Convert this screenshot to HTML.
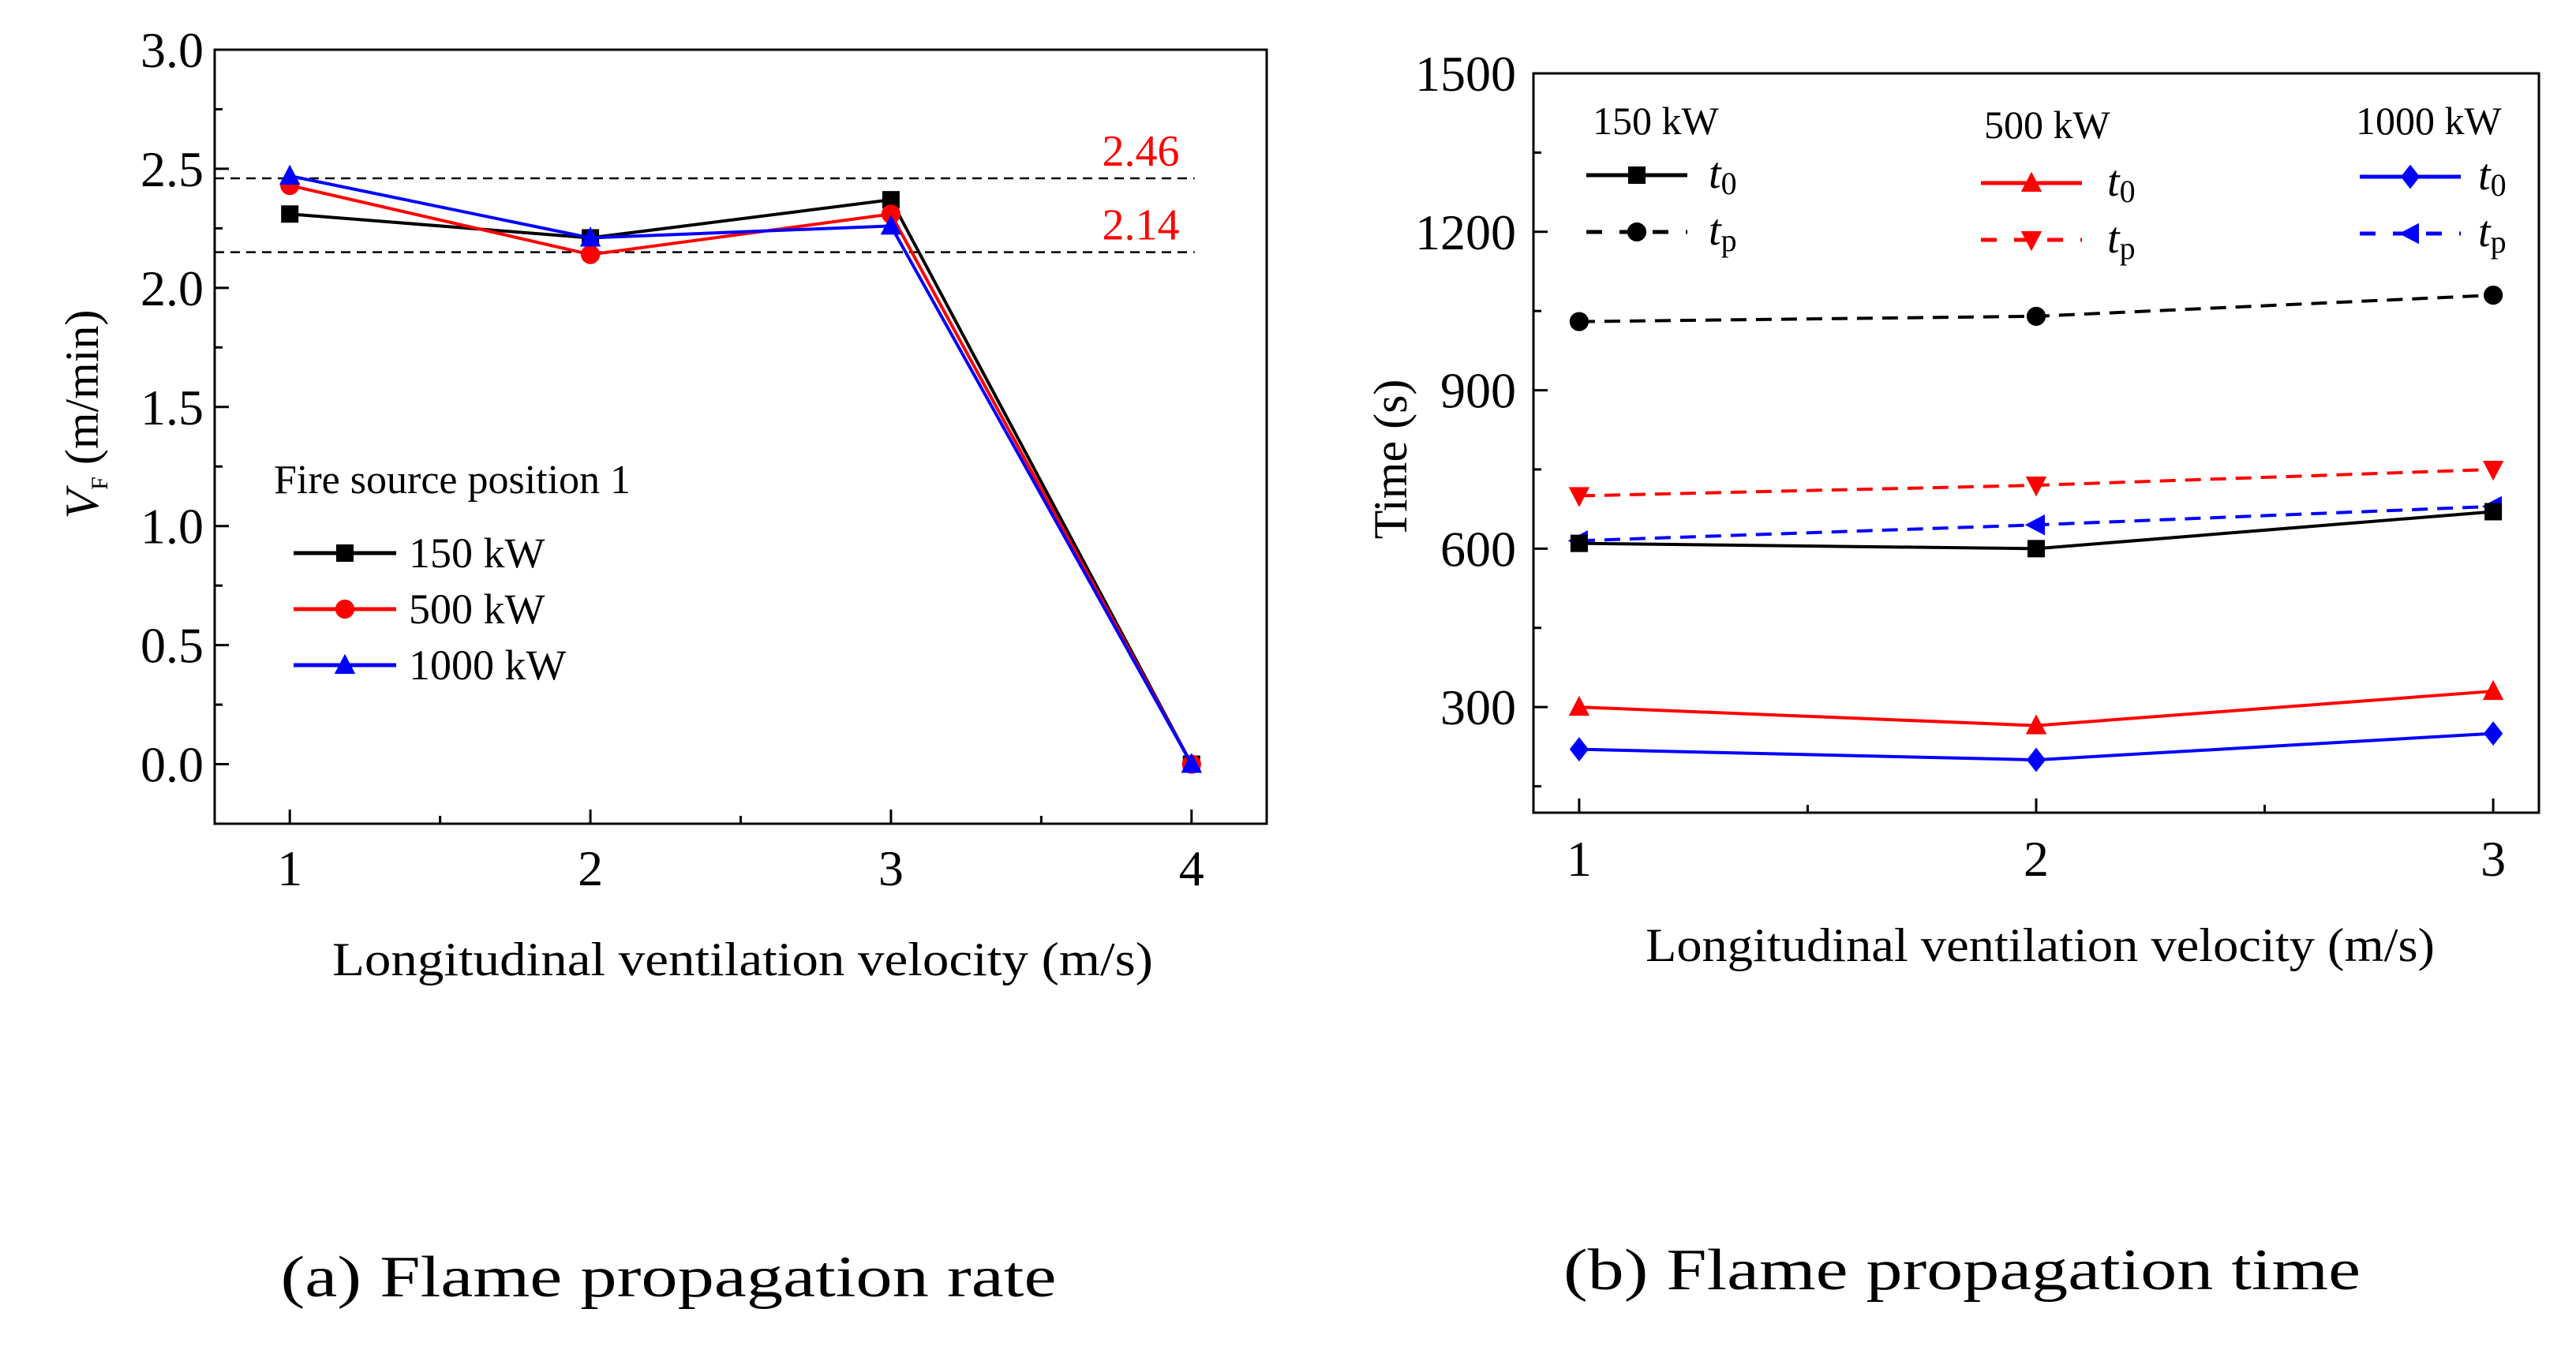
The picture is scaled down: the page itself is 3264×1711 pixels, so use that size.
<!DOCTYPE html>
<html><head><meta charset="utf-8"><style>
html,body{margin:0;padding:0;background:#fff;width:3264px;height:1711px;overflow:hidden}
svg{display:block;font-family:"Liberation Serif",serif}
</style></head><body>
<svg id="fig" width="3264" height="1711" viewBox="0 0 3264 1711" xmlns="http://www.w3.org/2000/svg">
<g id="pa"></g>
<g id="pb"></g>
<text x="847" y="1643" font-size="74" text-anchor="middle" textLength="983" lengthAdjust="spacingAndGlyphs">(a) Flame propagation rate</text>
<text x="2486" y="1634" font-size="74" text-anchor="middle" textLength="1010" lengthAdjust="spacingAndGlyphs">(b) Flame propagation time</text>
</svg>
<script>
// ---- Chart A data ----
const aCategories = [1, 2, 3, 4];
const aSeries150 = [2.31, 2.21, 2.37, 0.0];
const aSeries500 = [2.43, 2.14, 2.31, 0.0];
const aSeries1000 = [2.47, 2.21, 2.26, 0.0];
const aRefLines = [2.46, 2.15];
const aRefLabels = ["2.46", "2.14"];
const aYTicks = [0.0, 0.5, 1.0, 1.5, 2.0, 2.5, 3.0];
const aYTickLabels = ["0.0", "0.5", "1.0", "1.5", "2.0", "2.5", "3.0"];
// ---- Chart B data ----
const bCategories = [1, 2, 3];
const b150t0 = [610, 600, 670];
const b150tp = [1030, 1040, 1080];
const b500t0 = [300, 265, 330];
const b500tp = [700, 720, 750];
const b1000t0 = [220, 200, 250];
const b1000tp = [615, 645, 680];
const bYTicks = [300, 600, 900, 1200, 1500];
const bYTickLabels = ["300", "600", "900", "1200", "1500"];

const NS = "http://www.w3.org/2000/svg";
function mk(parent, tag, attrs, txt) {
  const e = document.createElementNS(NS, tag);
  for (const k in attrs) e.setAttribute(k, attrs[k]);
  if (txt !== undefined) e.textContent = txt;
  parent.appendChild(e);
  return e;
}
function marker(g, shape, x, y, color, s) {
  let e;
  if (shape === 'square') e = mk(g, 'rect', {x: x - s, y: y - s, width: 2 * s, height: 2 * s, fill: color});
  else if (shape === 'circle') e = mk(g, 'circle', {cx: x, cy: y, r: s * 1.1, fill: color});
  else if (shape === 'up') e = mk(g, 'polygon', {points: `${x},${y - s * 1.3} ${x - s * 1.2},${y + s} ${x + s * 1.2},${y + s}`, fill: color});
  else if (shape === 'down') e = mk(g, 'polygon', {points: `${x},${y + s * 1.3} ${x - s * 1.2},${y - s} ${x + s * 1.2},${y - s}`, fill: color});
  else if (shape === 'diamond') e = mk(g, 'polygon', {points: `${x},${y - s * 1.4} ${x + s * 1.1},${y} ${x},${y + s * 1.4} ${x - s * 1.1},${y}`, fill: color});
  else if (shape === 'left') e = mk(g, 'polygon', {points: `${x - s * 1.3},${y} ${x + s},${y - s * 1.2} ${x + s},${y + s * 1.2}`, fill: color});
  
  
  return e;
}

// ===== Chart A =====
(function () {
  const g = document.getElementById('pa');
  const L = 272, R = 1605, T = 63, B = 1044;
  const x0 = 0.75, x1 = 4.25, y0 = -0.25, y1 = 3.0;
  const X = v => L + (v - x0) / (x1 - x0) * (R - L);
  const Y = v => B - (v - y0) / (y1 - y0) * (B - T);
  const frame = mk(g, 'rect', {x: L, y: T, width: R - L, height: B - T, fill: 'none', stroke: '#000', 'stroke-width': 3});
  
  
  for (let v = -0.25; v <= 3.001; v += 0.25) {
    const major = Math.abs(v * 2 - Math.round(v * 2)) < 1e-6;
    const t = mk(g, 'line', {x1: L, x2: L + (major ? 18 : 10), y1: Y(v), y2: Y(v), stroke: '#000', 'stroke-width': 3});
    
    
  }
  aYTicks.forEach((v, i) => {
    const t = mk(g, 'text', {x: L - 14, y: Y(v) + 22, 'font-size': 64, 'text-anchor': 'end'}, aYTickLabels[i]);
    
    
  });
  for (let v = 1; v <= 4.001; v += 0.5) {
    const major = Math.abs(v - Math.round(v)) < 1e-6;
    const t = mk(g, 'line', {x1: X(v), x2: X(v), y1: B, y2: B - (major ? 18 : 10), stroke: '#000', 'stroke-width': 3});
    
    
  }
  aCategories.forEach(v => {
    const t = mk(g, 'text', {x: X(v), y: B + 78, 'font-size': 64, 'text-anchor': 'middle'}, String(v));
    
    
  });
  aRefLines.forEach((v, i) => {
    const l = mk(g, 'line', {x1: L, x2: X(4.01), y1: Y(v), y2: Y(v), stroke: '#000', 'stroke-width': 2.5, 'stroke-dasharray': '12 8'});
    
    
    const t = mk(g, 'text', {x: X(3.96), y: Y(v) - 16, 'font-size': 56, fill: '#f00', 'text-anchor': 'end'}, aRefLabels[i]);
    
    
  });
  const series = [[aSeries150, '#000', 'square', 'series-150kw'], [aSeries500, '#f00', 'circle', 'series-500kw'], [aSeries1000, '#00f', 'up', 'series-1000kw']];
  series.forEach(([d, c, s, n]) => {
    const sg = mk(g, 'g', {});
    
    
    mk(sg, 'polyline', {points: d.map((v, i) => X(aCategories[i]) + ',' + Y(v)).join(' '), fill: 'none', stroke: c, 'stroke-width': 4});
    d.forEach((v, i) => marker(sg, s, X(aCategories[i]), Y(v), c, 11));
  });
  const lt = mk(g, 'text', {x: 347, y: 625, 'font-size': 52}, 'Fire source position 1');
  
  
  const names = ['150 kW', '500 kW', '1000 kW'];
  series.forEach(([d, c, s, n], i) => {
    const y = 701 + i * 71;
    const lg = mk(g, 'g', {});
    
    
    mk(lg, 'line', {x1: 372, x2: 502, y1: y, y2: y, stroke: c, 'stroke-width': 5});
    marker(lg, s, 437, y, c, 11);
    mk(lg, 'text', {x: 518, y: y + 18, 'font-size': 54}, names[i]);
  });
  const xt = mk(g, 'text', {x: 941, y: 1236, 'font-size': 60, 'text-anchor': 'middle', textLength: 1040, lengthAdjust: 'spacingAndGlyphs'}, 'Longitudinal ventilation velocity (m/s)');
  
  
  const yt = mk(g, 'text', {transform: 'translate(124,525) rotate(-90)', 'font-size': 60, 'text-anchor': 'middle'});
  
  
  mk(yt, 'tspan', {'font-style': 'italic'}, 'V');
  mk(yt, 'tspan', {'font-size': 30, dy: 12}, 'F');
  mk(yt, 'tspan', {dy: -12}, ' (m/min)');
})();

// ===== Chart B =====
(function () {
  const g = document.getElementById('pb');
  const L = 1943, R = 3217, T = 93, B = 1030;
  const x0 = 0.9, x1 = 3.1, y0 = 100, y1 = 1500;
  const X = v => L + (v - x0) / (x1 - x0) * (R - L);
  const Y = v => B - (v - y0) / (y1 - y0) * (B - T);
  const frame = mk(g, 'rect', {x: L, y: T, width: R - L, height: B - T, fill: 'none', stroke: '#000', 'stroke-width': 3});
  
  
  for (let v = 150; v <= 1500; v += 150) {
    const major = v % 300 === 0;
    const t = mk(g, 'line', {x1: L, x2: L + (major ? 18 : 10), y1: Y(v), y2: Y(v), stroke: '#000', 'stroke-width': 3});
    
    
  }
  bYTicks.forEach((v, i) => {
    const t = mk(g, 'text', {x: L - 22, y: Y(v) + 22, 'font-size': 64, 'text-anchor': 'end'}, bYTickLabels[i]);
    
    
  });
  for (let v = 1; v <= 3.001; v += 0.5) {
    const major = Math.abs(v - Math.round(v)) < 1e-6;
    const t = mk(g, 'line', {x1: X(v), x2: X(v), y1: B, y2: B - (major ? 18 : 10), stroke: '#000', 'stroke-width': 3});
    
    
  }
  bCategories.forEach(v => {
    const t = mk(g, 'text', {x: X(v), y: B + 80, 'font-size': 64, 'text-anchor': 'middle'}, String(v));
    
    
  });
  const series = [
    [b150tp, '#000', 'circle', true, 'series-150kw-tp'],
    [b500tp, '#f00', 'down', true, 'series-500kw-tp'],
    [b1000tp, '#00f', 'left', true, 'series-1000kw-tp'],
    [b150t0, '#000', 'square', false, 'series-150kw-t0'],
    [b500t0, '#f00', 'up', false, 'series-500kw-t0'],
    [b1000t0, '#00f', 'diamond', false, 'series-1000kw-t0']
  ];
  series.forEach(([d, c, s, dash, n]) => {
    const sg = mk(g, 'g', {});
    
    
    const a = {points: d.map((v, i) => X(bCategories[i]) + ',' + Y(v)).join(' '), fill: 'none', stroke: c, 'stroke-width': 4};
    if (dash) a['stroke-dasharray'] = '20 12';
    mk(sg, 'polyline', a);
    d.forEach((v, i) => marker(sg, s, X(bCategories[i]), Y(v), c, 11));
  });
  const groups = [
    {title: '150 kW', tx: 2018, ty: 170, lx: 2010, y0: 222, y1: 294, c: '#000', s0: 'square', s1: 'circle', txx: 2165},
    {title: '500 kW', tx: 2514, ty: 175, lx: 2510, y0: 232, y1: 304, c: '#f00', s0: 'up', s1: 'down', txx: 2670},
    {title: '1000 kW', tx: 2985, ty: 170, lx: 2990, y0: 224, y1: 296, c: '#00f', s0: 'diamond', s1: 'left', txx: 3140}
  ];
  groups.forEach(gr => {
    const lg = mk(g, 'g', {});
    
    
    mk(lg, 'text', {x: gr.tx, y: gr.ty, 'font-size': 50}, gr.title);
    mk(lg, 'line', {x1: gr.lx, x2: gr.lx + 128, y1: gr.y0, y2: gr.y0, stroke: gr.c, 'stroke-width': 5});
    marker(lg, gr.s0, gr.lx + 64, gr.y0, gr.c, 11);
    mk(lg, 'line', {x1: gr.lx, x2: gr.lx + 128, y1: gr.y1, y2: gr.y1, stroke: gr.c, 'stroke-width': 5, 'stroke-dasharray': '20 22'});
    marker(lg, gr.s1, gr.lx + 64, gr.y1, gr.c, 11);
    const t0 = mk(lg, 'text', {x: gr.txx, y: gr.y0 + 16, 'font-size': 56});
    mk(t0, 'tspan', {'font-style': 'italic'}, 't');
    mk(t0, 'tspan', {'font-size': 40, dy: 8}, '0');
    const tp = mk(lg, 'text', {x: gr.txx, y: gr.y1 + 16, 'font-size': 56});
    mk(tp, 'tspan', {'font-style': 'italic'}, 't');
    mk(tp, 'tspan', {'font-size': 40, dy: 8}, 'p');
  });
  const xt = mk(g, 'text', {x: 2585, y: 1218, 'font-size': 60, 'text-anchor': 'middle', textLength: 1000, lengthAdjust: 'spacingAndGlyphs'}, 'Longitudinal ventilation velocity (m/s)');
  
  
  const yt = mk(g, 'text', {transform: 'translate(1782,582) rotate(-90)', 'font-size': 60, 'text-anchor': 'middle'}, 'Time (s)');
  
  
})();
</script>
</body></html>
